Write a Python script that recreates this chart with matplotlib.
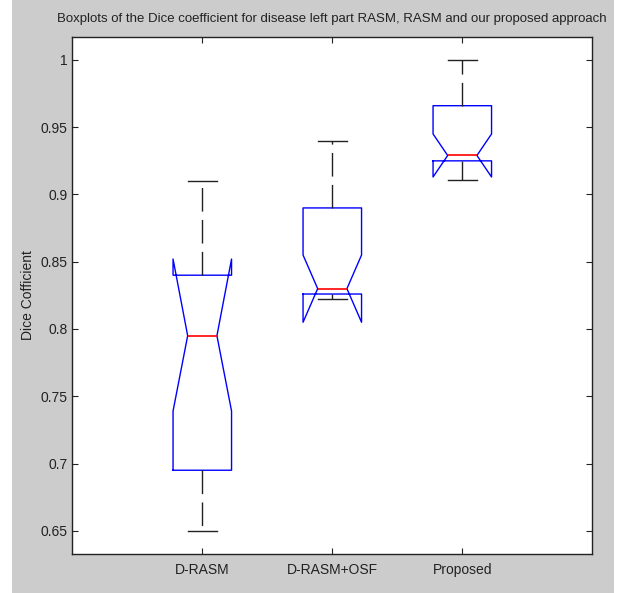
import matplotlib
matplotlib.use('Agg')
import matplotlib.pyplot as plt
from matplotlib.patches import Rectangle

# values
labels = ['D-RASM', 'D-RASM+OSF', 'Proposed']
whis_lo = [0.650, 0.822, 0.911]
q1 = [0.695, 0.826, 0.925]
medians = [0.795, 0.830, 0.929]
q3 = [0.840, 0.890, 0.966]
whis_hi = [0.910, 0.940, 1.000]
notch_lo = [0.739, 0.805, 0.913]
notch_hi = [0.852, 0.855, 0.945]
yticks = [0.65, 0.7, 0.75, 0.8, 0.85, 0.9, 0.95, 1.0]

plt.rcParams['font.family'] = ['Liberation Sans', 'DejaVu Sans']

stats = []
for i, lab in enumerate(labels):
    stats.append({'label': lab, 'whislo': whis_lo[i], 'q1': q1[i], 'med': medians[i],
                  'q3': q3[i], 'whishi': whis_hi[i], 'cilo': notch_lo[i],
                  'cihi': notch_hi[i], 'fliers': []})

fig = plt.figure(figsize=(6.19, 5.93), dpi=100, facecolor='white')
# grey MATLAB figure background, with thin white margins at the sides
fig.patches.append(Rectangle((12 / 619, 0), (614 - 12) / 619, 1, transform=fig.transFigure,
                             facecolor='#cccccc', edgecolor='none', zorder=-10))

ax = fig.add_axes([72.3 / 619, 1 - 554.3 / 593, (592.3 - 72.3) / 619, (554.3 - 36.7) / 593])
ax.set_facecolor('white')

ax.bxp(stats, positions=[1, 2, 3], widths=0.45, capwidths=0.225, shownotches=True,
       showfliers=False,
       boxprops=dict(color='#0000ff', linewidth=1.0),
       medianprops=dict(color='#ff0000', linewidth=1.2),
       whiskerprops=dict(color='#222222', linewidth=1.0, linestyle=(0, (17, 6))),
       capprops=dict(color='#222222', linewidth=1.0))

ax.set_xlim(0, 4)
ax.set_ylim(0.6325, 1.0173)
ax.set_yticks(yticks)
ax.set_yticklabels(['0.65', '0.7', '0.75', '0.8', '0.85', '0.9', '0.95', '1'])
ax.set_xticks([1, 2, 3])
ax.set_xticklabels(labels)
ax.tick_params(direction='in', length=4.3, width=0.8, top=True, right=True,
               labelsize=10, colors='#222222')
ax.tick_params(axis='x', pad=6.5)
ax.tick_params(axis='y', pad=3.6)
for s in ax.spines.values():
    s.set_color('#222222')
    s.set_linewidth(1.0)

ax.set_ylabel('Dice Cofficient', fontsize=10, color='#222222', labelpad=4)
ax.set_title('Boxplots of the Dice coefficient for disease left part RASM, RASM and our proposed approach',
             fontsize=9.5, color='#222222', pad=10.5)

fig.savefig('out.png', dpi=100, facecolor='white')
